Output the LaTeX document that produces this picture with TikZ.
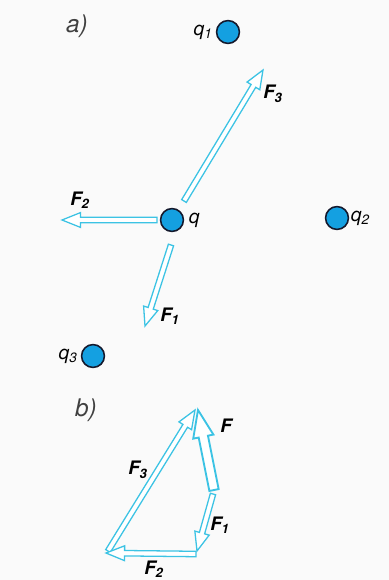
\documentclass[tikz,border=0pt]{standalone}
\usepackage{fontspec}
\setmainfont{TeX Gyre Heros}
\usetikzlibrary{calc, positioning}
\definecolor{cPaper}{RGB}{250,250,250}
\definecolor{cVec}{RGB}{60,195,228}
\definecolor{cCharge}{RGB}{20,160,225}
\definecolor{cRim}{RGB}{20,25,45}
\tikzset{
	charge/.style={circle, draw=cRim, line width=1.1pt, fill=cCharge, minimum size=16pt, inner sep=0pt},
	qlabel/.style={font=\fontsize{13.5}{15}\selectfont\itshape, inner sep=1pt},
	flabel/.style={font=\fontsize{13}{15}\selectfont\bfseries\itshape, inner sep=0pt},
	partlabel/.style={font=\fontsize{17}{19}\selectfont\itshape, text=black!75},
	vec/.style={draw=cVec, line width=0.9pt, fill=white, line join=miter},
	bigvec/.style={vec, line width=1.3pt},
}
% hollow force arrow: tail, tip, half shaft width, half head width, head length
\newcommand{\forcevec}[6][vec]{%
	\coordinate (neck) at ($(#3)!#6!(#2)$);
	\draw[#1] ($(#2)!#4!90:(#3)$) -- ($(neck)!#4!-90:(#2)$) -- ($(neck)!#5!-90:(#2)$) -- (#3)
		-- ($(neck)!#5!90:(#2)$) -- ($(neck)!#4!90:(#2)$) -- ($(#2)!#4!-90:(#3)$) -- cycle;
}
\begin{document}
\begin{tikzpicture}[x=0.7pt, y=-0.7pt]
	\fill[cPaper] (0,0) rectangle (389,580);
	\useasboundingbox (0,0) rectangle (389,580);
	% a) forces on q
	\coordinate (a3t) at (184,201); \coordinate (a3h) at (263,70);
	\coordinate (a2t) at (157,220); \coordinate (a2h) at (62,220);
	\coordinate (a1t) at (171,245); \coordinate (a1h) at (145,326);
	% b) sum of forces
	\coordinate (b3t) at (108,551); \coordinate (b3h) at (195,410);
	\coordinate (b1t) at (213,494); \coordinate (b1h) at (197,551);
	\coordinate (b2t) at (196,554); \coordinate (b2h) at (106,553);
	\coordinate (bFt) at (214,490); \coordinate (bFh) at (198,410);
	\foreach \t/\h in {a3t/a3h, a2t/a2h, a1t/a1h, b3t/b3h, b1t/b1h, b2t/b2h}
		\forcevec{\t}{\h}{1.9pt}{5.2pt}{13pt};
	\forcevec[bigvec]{bFt}{bFh}{3.3pt}{7.2pt}{19pt};
	\foreach \name/\x/\y in {q1/228/32, q/172/220, q2/337/218, q3/93/356}
		\node[charge] (\name) at (\x,\y) {};
	\node[qlabel, left=1pt of q1] (lq1) {q\textsubscript{1}};
	\node[qlabel, right=2pt of q] (lq) {q};
	\node[qlabel, right=0pt of q2] (lq2) {q\textsubscript{2}};
	\node[qlabel, left=1pt of q3] (lq3) {q\textsubscript{3}};
	\node[partlabel] (pa) at (77,26) {a)};
	\node[partlabel] (pb) at (86,410) {b)};
	\node[flabel] (la3) at (273,94) {F\textsubscript{3}};
	\node[flabel] (la2) at (80,200) {F\textsubscript{2}};
	\node[flabel] (la1) at (170,316) {F\textsubscript{1}};
	\node[flabel] (lbF) at (226,426) {F};
	\node[flabel] (lb3) at (138,470) {F\textsubscript{3}};
	\node[flabel] (lb1) at (220,525) {F\textsubscript{1}};
	\node[flabel] (lb2) at (154,569) {F\textsubscript{2}};
\end{tikzpicture}
\end{document}
